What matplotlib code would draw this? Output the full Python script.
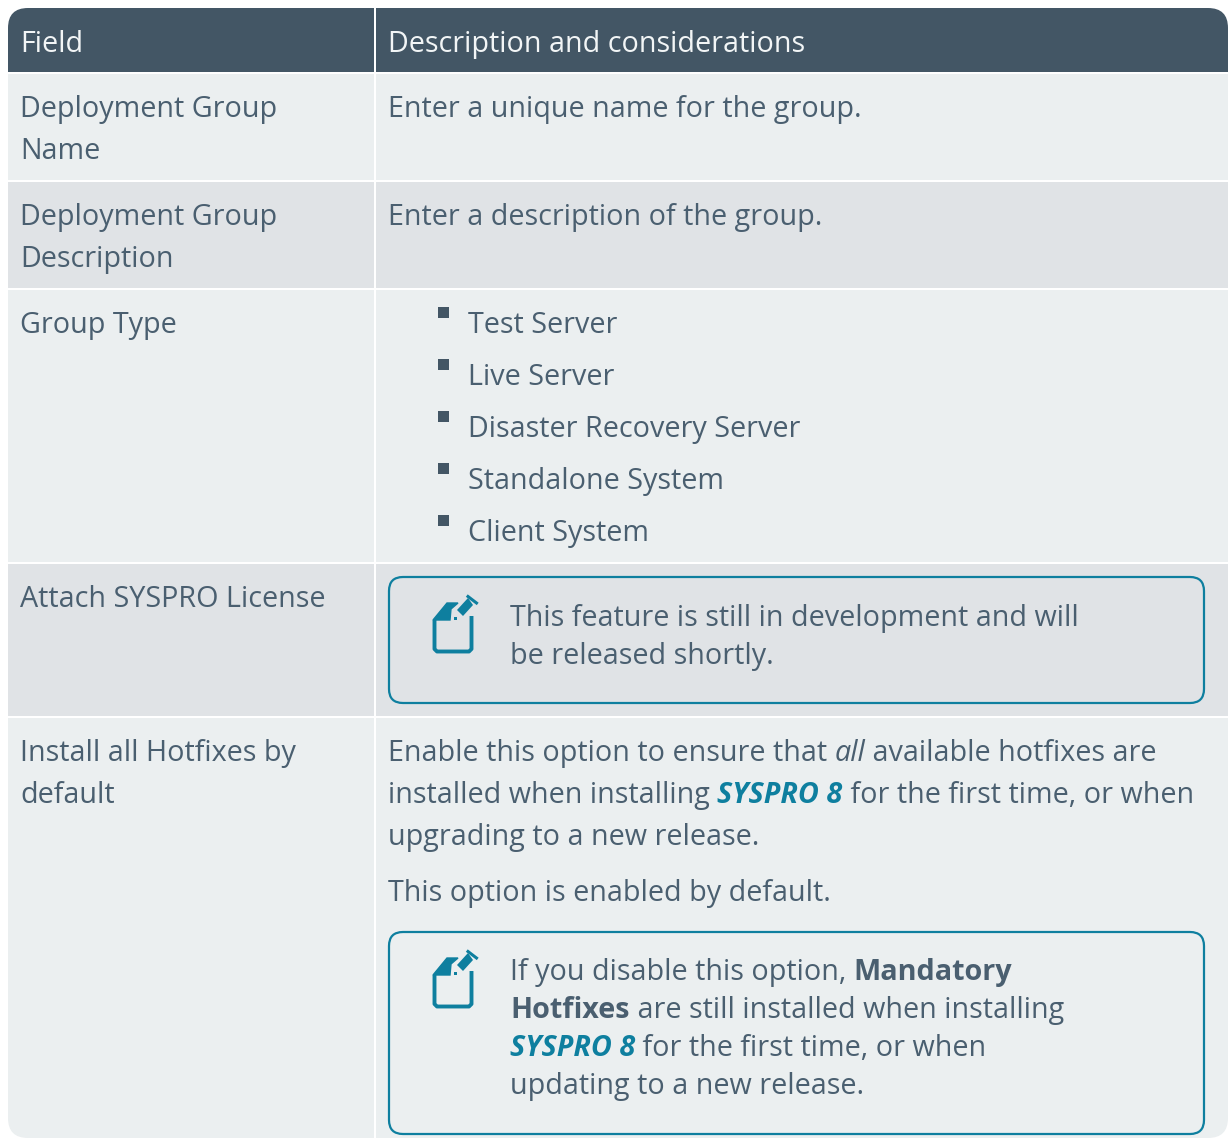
import matplotlib
matplotlib.use("Agg")
import matplotlib.pyplot as plt
from matplotlib.patches import FancyBboxPatch, Polygon, Rectangle

plt.rcParams["font.family"] = ["Open Sans", "DejaVu Sans"]

W, H = 1228, 1138
DARK = "#435665"
TEXT = "#4a5f70"
TEAL = "#0e7f9f"
ROW_A = "#ebeff0"
ROW_B = "#e0e3e6"
SIZE = 20.68

headers = ["Field", "Description and considerations"]
fields = [
    ["Deployment Group", "Name"],
    ["Deployment Group", "Description"],
    ["Group Type"],
    ["Attach SYSPRO License"],
    ["Install all Hotfixes by", "default"],
]
row_tops = [74, 182, 290, 564, 718]
row_bottoms = [180, 288, 562, 716, 1138]
row_fill = [ROW_A, ROW_B, ROW_A, ROW_B, ROW_A]
field_y = [106.3, 214.3, 322.3, 596.3, 750.3]
field_y2 = [148.3, 256.3, None, None, 792.3]

bullets = ["Test Server", "Live Server", "Disaster Recovery Server", "Standalone System", "Client System"]
bullet_y = [322.3, 374.3, 426.3, 478.3, 530.3]

desc_lines = [
    (106.3, [("Enter a unique name for the group.", "n")]),
    (214.3, [("Enter a description of the group.", "n")]),
    (750.3, [("Enable this option to ensure that ", "n"), ("all", "i"), (" available hotfixes are", "n")]),
    (792.3, [("installed when installing ", "n"), ("SYSPRO 8", "bi"), (" for the first time, or when", "n")]),
    (834.3, [("upgrading to a new release.", "n")]),
    (890.3, [("This option is enabled by default.", "n")]),
]
note_lines = [
    (615.3, [("This feature is still in development and will", "n")]),
    (653.3, [("be released shortly.", "n")]),
    (969.3, [("If you disable this option, ", "n"), ("Mandatory", "b")]),
    (1007.3, [("Hotfixes", "b"), (" are still installed when installing", "n")]),
    (1045.3, [("SYSPRO 8", "bi"), (" for the first time, or when", "n")]),
    (1083.3, [("updating to a new release.", "n")]),
]
note_boxes = [(577, 703), (932, 1134)]
icon_y = [595, 950]

fig = plt.figure(figsize=(W / 100, H / 100), dpi=100)
ax = fig.add_axes([0, 0, 1, 1])
ax.set_xlim(0, W)
ax.set_ylim(H, 0)
ax.axis("off")

clip = FancyBboxPatch((28, 28), W - 48, H - 48, boxstyle="round,pad=20,rounding_size=20", fc="none", ec="none")
ax.add_patch(clip)


def cell(x, y, w, h, color):
    r = Rectangle((x, y), w, h, fc=color, ec="none")
    ax.add_patch(r)
    r.set_clip_path(clip)


cell(8, 8, 366, 64, DARK)
cell(376, 8, W - 376, 64, DARK)
for top, bottom, color in zip(row_tops, row_bottoms, row_fill):
    cell(8, top, 366, bottom - top, color)
    cell(376, top, W - 376, bottom - top, color)

renderer = fig.canvas.get_renderer()


def put_runs(x, y, runs, size):
    # each run starts where the previous one ended
    for s, style in runs:
        color = TEXT
        weight = "normal"
        slant = "normal"
        if "b" in style:
            weight = "bold"
        if "i" in style:
            slant = "italic"
        if style == "bi":
            color = TEAL
        t = ax.text(x, y, s.replace(" ", "\u00a0"), fontsize=size, color=color, weight=weight,
                    style=slant, va="center_baseline", ha="left")
        x = ax.transData.inverted().transform((t.get_window_extent(renderer).x1, 0))[0]


def draw_icon(y):
    # page outline with folded corner
    ax.add_patch(Polygon([(434.5, y + 25), (434.5, y + 54), (437, y + 56.5), (469, y + 56.5), (471.5, y + 54), (471.5, y + 21)],
                         closed=False, fc="none", ec=TEAL, lw=2.8, joinstyle="round"))
    ax.add_patch(Polygon([(433, y + 25), (447, y + 8), (458, y + 8), (451, y + 14), (450, y + 25)], fc=TEAL, ec=TEAL, lw=1))
    # pencil
    ax.add_patch(Polygon([(457, y + 15), (468, y + 3), (473, y + 10), (463, y + 21)], fc=TEAL, ec="none"))
    ax.plot([468, 476.5], [y + 1.5, y + 8], color=TEAL, lw=2.2)
    ax.add_patch(Rectangle((454, y + 22), 3, 3, fc=TEAL, ec="none"))


for x, label in zip([20, 388], headers):
    ax.text(x, 40.6, label, fontsize=SIZE, color="#f2f5f6", va="center_baseline")

for lines, y1, y2 in zip(fields, field_y, field_y2):
    put_runs(20, y1, [(lines[0], "n")], SIZE)
    if y2 is not None:
        put_runs(20, y2, [(lines[1], "n")], SIZE)

for label, y in zip(bullets, bullet_y):
    ax.add_patch(Rectangle((438, y - 15.5), 11, 11, fc=DARK, ec="none"))
    put_runs(468, y, [(label, "n")], SIZE)

for y, runs in desc_lines:
    put_runs(388, y, runs, SIZE)

for top, bottom in note_boxes:
    ax.add_patch(FancyBboxPatch((401, top + 12), 791, bottom - top - 24, boxstyle="round,pad=12,rounding_size=14",
                                fc="none", ec=TEAL, lw=1.6))
for y, runs in note_lines:
    put_runs(510, y, runs, SIZE)
for y in icon_y:
    draw_icon(y)

fig.savefig("out.png", dpi=100)
